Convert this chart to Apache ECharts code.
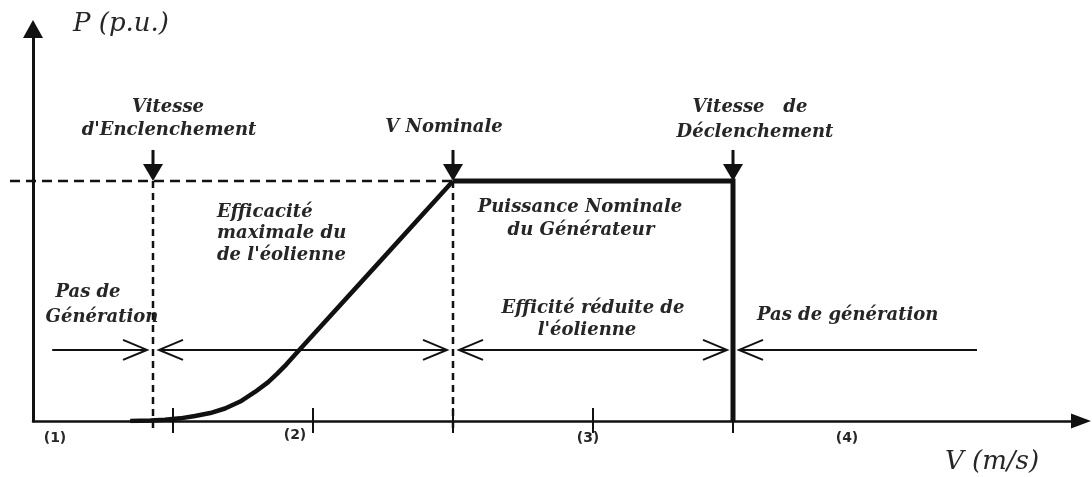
<!DOCTYPE html>
<html>
<head>
    <meta charset="utf-8">
    <title>Courbe de puissance</title>
    <script src="https://cdn.jsdelivr.net/npm/echarts@6/dist/echarts.min.js"></script>
</head>
<body style="margin:0;background:#fff">
    <div id="main" style="width:1092px;height:477px;"></div>
    <script type="text/javascript">
// vitesses caracteristiques (m/s) et puissance nominale (p.u.)
var cutIn = 3, nominal = 10.5, cutOut = 17.5;
var ratedP = 1;
// graduations de l'axe V
var tickSpeeds = [3.5, 7, 10.5, 14, 17.5];
// montee de la courbe entre enclenchement et V nominale
var curveSpeed = [2.43, 2.93, 3.3, 3.68, 4.05, 4.43, 4.8, 5.18, 5.55, 5.88, 6.1, 6.33, 6.6, 8.55, 10.5];
var curvePower = [0, 0.002, 0.005, 0.011, 0.021, 0.033, 0.052, 0.081, 0.121, 0.162, 0.196, 0.235, 0.285, 0.642, 1];
// palier nominal puis coupure
var ratedSpeed = [10.5, 17.5, 17.5];
var ratedPower = [1, 1, 0];
// rangee des fleches de zones
var zoneBounds = [0.48, 3, 10.5, 17.5, 23.6];
var zoneRowP = 0.296;
var dashStart = -0.575;

var ink = '#111';
var txt = '#262626';
var serifBI = 'italic bold 18px "DejaVu Serif"';

function zip(a, b) { return a.map(function (v, i) { return [v, b[i]]; }); }

function line(p1, p2, style) {
    return { type: 'line', shape: { x1: p1[0], y1: p1[1], x2: p2[0], y2: p2[1] }, style: style };
}

var myChart = echarts.init(document.getElementById('main'));

var zoneData = [];
for (var i = 0; i < zoneBounds.length - 1; i++) zoneData.push([zoneBounds[i], zoneRowP, zoneBounds[i + 1]]);

function label(text, x, y, align, font) {
    return {
        type: 'text', x: x, y: y,
        style: { text: text, font: font || serifBI, fill: txt, textAlign: align || 'center', textVerticalAlign: 'middle' }
    };
}

option = {
    animation: false,
    grid: { left: 33, right: 11, top: 29, bottom: 56 },
    xAxis: {
        type: 'value', min: 0, max: 26.2,
        axisLine: { lineStyle: { color: ink, width: 2.5 }, symbol: ['none', 'triangle'], symbolSize: [15, 20] },
        axisTick: { show: false }, axisLabel: { show: false }, splitLine: { show: false }
    },
    yAxis: {
        type: 'value', min: 0, max: 1.633,
        axisLine: { show: true, lineStyle: { color: ink, width: 3 }, symbol: ['none', 'triangle'], symbolSize: [20, 18] },
        axisTick: { show: false }, axisLabel: { show: false }, splitLine: { show: false }
    },
    series: [
        {
            // pointilles horizontaux P = 1
            type: 'custom', clip: false, silent: true,
            data: [[dashStart, ratedP, nominal]],
            renderItem: function (params, api) {
                var a = api.coord([api.value(0), api.value(1)]);
                var b = api.coord([api.value(2), api.value(1)]);
                return line(a, b, { stroke: ink, lineWidth: 2.5, lineDash: [10, 6] });
            }
        },
        {
            // pointilles verticaux
            type: 'custom', clip: false, silent: true,
            data: [[cutIn, ratedP], [nominal, ratedP]],
            renderItem: function (params, api) {
                var a = api.coord([api.value(0), api.value(1)]);
                var b = api.coord([api.value(0), 0]);
                return line(a, [b[0], b[1] + 8], { stroke: ink, lineWidth: 2.5, lineDash: [7, 5] });
            }
        },
        {
            // graduations
            type: 'custom', clip: false, silent: true,
            data: tickSpeeds.map(function (v) { return [v, 0]; }),
            renderItem: function (params, api) {
                var p = api.coord([api.value(0), 0]);
                return line([p[0], p[1] - 13], [p[0], p[1] + 12], { stroke: ink, lineWidth: 2 });
            }
        },
        {
            // fleches verticales
            type: 'custom', clip: false, silent: true,
            data: [[cutIn, ratedP], [nominal, ratedP], [cutOut, ratedP]],
            renderItem: function (params, api) {
                var p = api.coord([api.value(0), api.value(1)]);
                return {
                    type: 'group',
                    children: [
                        line([p[0], p[1] - 31], [p[0], p[1] - 15], { stroke: ink, lineWidth: 3 }),
                        { type: 'polygon', shape: { points: [[p[0] - 10, p[1] - 17], [p[0] + 10, p[1] - 17], [p[0], p[1]]] }, style: { fill: ink } }
                    ]
                };
            }
        },
        {
            // fleches de zones
            type: 'custom', clip: false, silent: true,
            data: zoneData,
            renderItem: function (params, api) {
                var a = api.coord([api.value(0), api.value(1)]);
                var b = api.coord([api.value(2), api.value(1)]);
                var last = zoneData.length - 1;
                var gap = 6, hl = 24, hw = 10;
                var st = { stroke: ink, lineWidth: 2, fill: null };
                var x1 = params.dataIndex > 0 ? a[0] + gap : a[0];
                var x2 = params.dataIndex < last ? b[0] - gap : b[0];
                var kids = [line([x1, a[1]], [x2, b[1]], st)];
                if (params.dataIndex > 0) {
                    kids.push({ type: 'polyline', shape: { points: [[x1 + hl, a[1] - hw], [x1, a[1]], [x1 + hl, a[1] + hw]] }, style: st });
                }
                if (params.dataIndex < last) {
                    kids.push({ type: 'polyline', shape: { points: [[x2 - hl, b[1] - hw], [x2, b[1]], [x2 - hl, b[1] + hw]] }, style: st });
                }
                return { type: 'group', children: kids };
            }
        },
        {
            type: 'line', data: zip(curveSpeed, curvePower),
            symbol: 'none', silent: true,
            lineStyle: { color: ink, width: 4.5, join: 'round' }
        },
        {
            type: 'line', data: zip(ratedSpeed, ratedPower),
            symbol: 'none', silent: true,
            lineStyle: { color: ink, width: 5, join: 'miter' }
        }
    ],
    graphic: [
        label('P (p.u.)', 73, 24, 'left', 'italic 26px "DejaVu Serif"'),
        label('V (m/s)', 945, 462, 'left', 'italic 26px "DejaVu Serif"'),
        label('Vitesse', 168, 107),
        label("d'Enclenchement", 169, 130),
        label('V Nominale', 444, 127),
        label('Vitesse   de', 750, 107),
        label('Déclenchement', 755, 132),
        label('Efficacité', 217, 212, 'left'),
        label('maximale du', 217, 233, 'left'),
        label("de l'éolienne", 217, 255, 'left'),
        label('Puissance Nominale', 580, 207),
        label('du Générateur', 581, 230),
        label('Pas de', 88, 292),
        label('Génération', 102, 317),
        label('Efficité réduite de', 593, 308),
        label("l'éolienne", 587, 330),
        label('Pas de génération', 757, 315, 'left'),
        label('(1)', 55, 438, 'center', 'bold 14px "DejaVu Sans"'),
        label('(2)', 295, 435, 'center', 'bold 14px "DejaVu Sans"'),
        label('(3)', 588, 438, 'center', 'bold 14px "DejaVu Sans"'),
        label('(4)', 847, 438, 'center', 'bold 14px "DejaVu Sans"')
    ]
};

if (option && typeof option === "object") {
    myChart.setOption(option);
}
    </script>
</body>
</html>
